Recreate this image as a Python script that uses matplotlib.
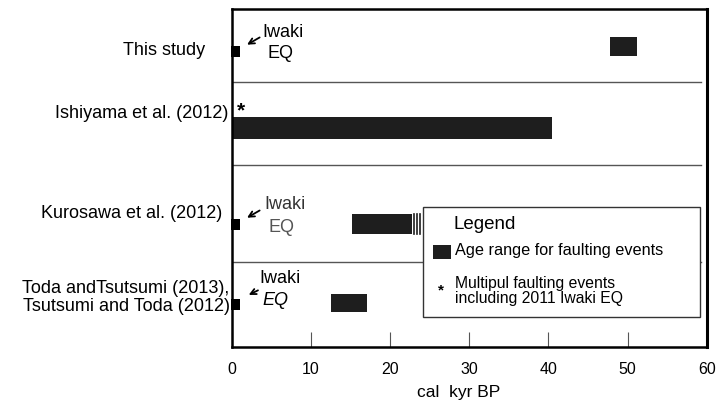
import matplotlib
matplotlib.use("Agg")
import matplotlib.pyplot as plt
from matplotlib.patches import Rectangle

plt.rcParams['font.family'] = ['Liberation Sans', 'DejaVu Sans']

# Data
studies = ["This study", "Ishiyama et al. (2012)", "Kurosawa et al. (2012)",
           "Toda andTsutsumi (2013),\nTsutsumi and Toda (2012)"]
bar_start = [47.8, 0.0, 15.2, 12.5]      # kyr BP
bar_end = [51.2, 40.4, 22.8, 17.1]
extra_lines = [23.0, 23.4, 23.8]         # thin event lines (Kurosawa)
iwaki_rows = [0, 2, 3]                   # rows with 2011 Iwaki EQ mark
star_rows = [1]
xticks = [0, 10, 20, 30, 40, 50, 60]

# Layout (y in axis units, top = 0)
bar_y = [37.5, 119, 215, 294]
bar_h = [19, 22, 20, 18]
label_y = [40, 103, 203, 287.5]
label_x = [-3.4, -0.5, -1.2, -0.3]
mark_y = [42, None, 215.5, 295.5]
seps = [73, 156, 253]

fig = plt.figure(figsize=(7.16, 4.02), dpi=100)
ax = fig.add_axes([0.324, 0.134, 0.663, 0.841])
ax.set_xlim(0, 60)
ax.set_ylim(338, 0)

for i in range(len(studies)):
    ax.broken_barh([(bar_start[i], bar_end[i] - bar_start[i])],
                   (bar_y[i] - bar_h[i] / 2, bar_h[i]), facecolors='#1e1e1e')
for xl in extra_lines:
    ax.plot([xl, xl], [bar_y[2] - bar_h[2] / 2, bar_y[2] + bar_h[2] / 2],
            color='#1e1e1e', lw=1.2)

for s in seps:
    ax.plot([0, 59.3], [s, s], color='#555555', lw=1.0)

for r in iwaki_rows:
    ax.add_patch(Rectangle((-0.1, mark_y[r] - 5.5), 1.05, 11,
                           facecolor='black', edgecolor='none',
                           clip_on=False, zorder=5))

fs = 13
# Iwaki EQ annotations
ax.annotate("", xy=(1.6, 37), xytext=(3.8, 27),
            arrowprops=dict(arrowstyle='->', color='black', lw=1.3))
ax.text(3.9, 22, "Iwaki", fontsize=fs, ha='left', va='center')
ax.text(4.5, 43, "EQ", fontsize=fs, ha='left', va='center')

ax.annotate("", xy=(1.6, 210), xytext=(3.8, 200),
            arrowprops=dict(arrowstyle='->', color='black', lw=1.3))
ax.text(4.1, 194, "Iwaki", fontsize=fs, ha='left', va='center', color='#333333')
ax.text(4.6, 217, "EQ", fontsize=fs, ha='left', va='center', color='#555555')

ax.annotate("", xy=(1.8, 287), xytext=(3.6, 280),
            arrowprops=dict(arrowstyle='->', color='black', lw=1.3))
ax.text(3.4, 268, "Iwaki", fontsize=fs, ha='left', va='center')
ax.text(3.9, 290, "EQ", fontsize=fs, ha='left', va='center', style='italic')

for r in star_rows:
    ax.text(0.65, 101, "*", fontsize=15, ha='left', va='center', fontweight='bold')

# Left labels
ax.set_yticks([])
for i, s in enumerate(studies):
    ax.text(label_x[i], label_y[i], s, fontsize=fs, ha='right', va='center',
            linespacing=1.05, clip_on=False)

ax.set_xticks(xticks)
ax.tick_params(axis='x', direction='in', length=11, width=0.8, labelsize=11.5,
               pad=10, color='#555555')
ax.set_xlabel("cal  kyr BP", fontsize=12.5, va='center')
ax.xaxis.set_label_coords(0.477, -0.13)
for sp in ax.spines.values():
    sp.set_linewidth(1.8)
ax.spines['right'].set_linewidth(2.2)

# Legend box
lg = Rectangle((24.2, 198), 35.0, 110, facecolor='white', edgecolor='#333333',
               lw=1.0, zorder=6)
ax.add_patch(lg)
ax.text(31.9, 214, "Legend", fontsize=13.5, ha='center', va='center', zorder=7)
ax.add_patch(Rectangle((25.4, 236), 2.25, 14, facecolor='#1e1e1e', zorder=7))
ax.text(28.2, 240, "Age range for faulting events", fontsize=11.7,
        ha='left', va='center', zorder=7)
ax.text(26.4, 280, "*", fontsize=11, ha='center', va='center', zorder=7,
        fontweight='bold')
ax.text(28.2, 281, "Multipul faulting events\nincluding 2011 Iwaki EQ",
        fontsize=11.3, ha='left', va='center', zorder=7, linespacing=1.05)

fig.savefig("out.png", dpi=100)
